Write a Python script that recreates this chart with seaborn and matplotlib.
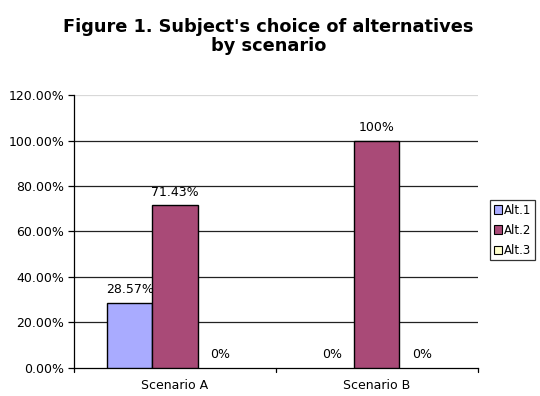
import matplotlib
matplotlib.use("Agg")
import matplotlib.pyplot as plt
import seaborn as sns
import pandas as pd
from matplotlib.ticker import FuncFormatter, FixedLocator

scenarios = ["Scenario A", "Scenario B"]
alternatives = ["Alt.1", "Alt.2", "Alt.3"]
alt1 = [0.2857, 0.0]
alt2 = [0.7143, 1.0]
alt3 = [0.0, 0.0]
labels1 = ["28.57%", "0%"]
labels2 = ["71.43%", "100%"]
labels3 = ["0%", "0%"]
yticks = [0.0, 0.2, 0.4, 0.6, 0.8, 1.0, 1.2]
colors = ["#A9ABFF", "#A94A77", "#FFFFCC"]

rows = []
for i, s in enumerate(scenarios):
    for alt, vals in zip(alternatives, [alt1, alt2, alt3]):
        rows.append({"Scenario": s, "Alternative": alt, "Value": vals[i]})
df = pd.DataFrame(rows)

sns.set_style("white")
plt.rcParams['font.family'] = ['DejaVu Sans']
plt.rcParams['text.color'] = 'black'
plt.rcParams['xtick.color'] = 'black'
plt.rcParams['ytick.color'] = 'black'

fig = plt.figure(figsize=(5.4, 3.96), dpi=100)
ax = fig.add_axes([0.137, 0.071, 0.748, 0.689])

sns.barplot(data=df, x="Scenario", y="Value", hue="Alternative",
            palette=colors, saturation=1, width=0.67, edgecolor="black", linewidth=1.0,
            ax=ax, errorbar=None, legend=True, zorder=3)

# hide zero-height bars (not visible in reference)
for cont in ax.containers:
    for patch in cont.patches:
        if patch.get_height() == 0:
            patch.set_linewidth(0)

ax.set_ylim(0, 1.2)
ax.set_xlim(-0.5, 1.5)
ax.yaxis.set_major_locator(FixedLocator(yticks))
ax.yaxis.set_major_formatter(FuncFormatter(lambda v, p: f"{v*100:.2f}%"))
for y in yticks[1:-1]:
    ax.axhline(y, color="#222222", linewidth=0.9, zorder=1)
ax.axhline(1.2, color="#d8d8d8", linewidth=0.9, zorder=1)

ax.set_xticks([0, 1])
ax.set_xticklabels(scenarios, fontsize=9)
ax.tick_params(axis="x", length=0, pad=8)
ax.tick_params(axis="y", length=4, width=0.9, direction="out", left=True, labelsize=9, pad=3)
for xb in [-0.5, 0.5, 1.5]:
    ax.plot([xb, xb], [0, -0.02], color="black", linewidth=0.9, clip_on=False, zorder=4)

ax.set_xlabel("")
ax.set_ylabel("")
for side in ["top", "right"]:
    ax.spines[side].set_visible(False)
for side in ["left", "bottom"]:
    ax.spines[side].set_color("black")
    ax.spines[side].set_linewidth(0.9)

all_labels = [labels1, labels2, labels3]
for cont, labs in zip(ax.containers, all_labels):
    ax.bar_label(cont, labels=labs, padding=5, fontsize=9, color="black")

fig.suptitle("Figure 1. Subject's choice of alternatives\nby scenario",
             fontsize=12.8, fontweight="bold", y=0.955, x=0.497, linespacing=1.1)

leg = ax.legend(loc="upper left", bbox_to_anchor=(1.03, 0.615), frameon=True,
                fontsize=8.5, handlelength=0.7, handleheight=0.7, handletextpad=0.2,
                borderpad=0.3, labelspacing=0.6, fancybox=False, borderaxespad=0)
leg.get_frame().set_edgecolor("black")
leg.get_frame().set_linewidth(0.9)
for h in leg.legend_handles:
    h.set_linewidth(0.8)

fig.savefig("out.png", dpi=100)
